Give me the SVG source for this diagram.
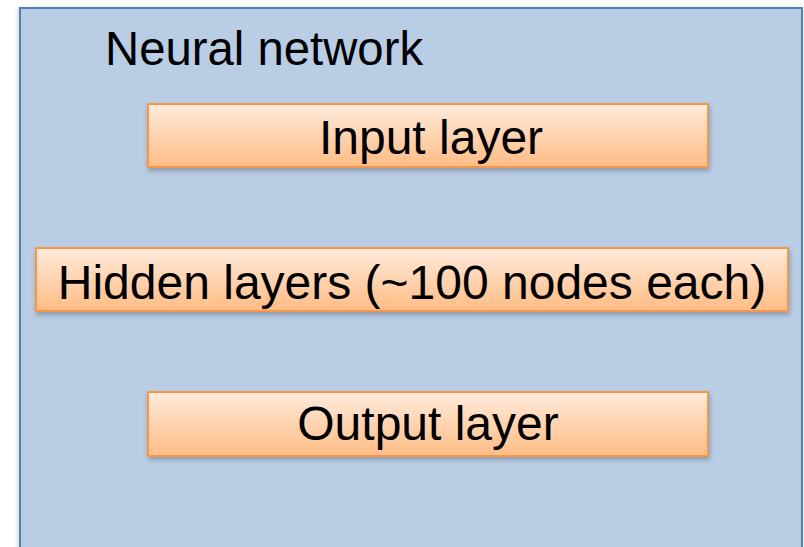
<svg xmlns="http://www.w3.org/2000/svg" width="804" height="547" viewBox="0 0 804 547">
<defs>
<linearGradient id="boxgrad" x1="0" y1="0" x2="0" y2="1">
<stop offset="0" stop-color="#FFEBDD"/>
<stop offset="1" stop-color="#FFBC84"/>
</linearGradient>
<filter id="shadow" x="-5%" y="-20%" width="110%" height="150%">
<feGaussianBlur in="SourceAlpha" stdDeviation="2.5"/>
<feOffset dx="1" dy="3" result="b"/>
<feComponentTransfer><feFuncA type="linear" slope="0.25"/></feComponentTransfer>
<feMerge><feMergeNode/><feMergeNode in="SourceGraphic"/></feMerge>
</filter>
<filter id="oshadow" x="-5%" y="-5%" width="110%" height="110%">
<feGaussianBlur in="SourceAlpha" stdDeviation="2"/>
<feOffset dx="-1" dy="1"/>
<feComponentTransfer><feFuncA type="linear" slope="0.2"/></feComponentTransfer>
<feMerge><feMergeNode/><feMergeNode in="SourceGraphic"/></feMerge>
</filter>
</defs>
<style>
.box { fill: url(#boxgrad); stroke: #F79646; stroke-width: 2; }
.t { font-family: "Liberation Sans", Arial, sans-serif; font-size: 48px; fill: #000; }
.c { text-anchor: middle; }
</style>
<rect width="804" height="547" fill="#FFFFFF"/>
<g id="neural-network">
<rect x="20" y="8" width="782" height="560" fill="#B9CDE5" stroke="#4F81BD" stroke-width="2" filter="url(#oshadow)"/>
<text class="t" x="105" y="65" style="font-size:47.3px">Neural network</text>
</g>
<g id="connectors"></g>
<g id="input-layer">
<rect class="box" x="148" y="104" width="560" height="63" filter="url(#shadow)"/>
<text class="t c" x="431" y="154">Input layer</text>
</g>
<g id="hidden-layers">
<rect class="box" x="36" y="248" width="752" height="63" filter="url(#shadow)"/>
<text class="t c" x="412" y="299">Hidden layers (~100 nodes each)</text>
</g>
<g id="output-layer">
<rect class="box" x="148" y="392" width="560" height="64" filter="url(#shadow)"/>
<text class="t c" x="428" y="440">Output layer</text>
</g>
</svg>
